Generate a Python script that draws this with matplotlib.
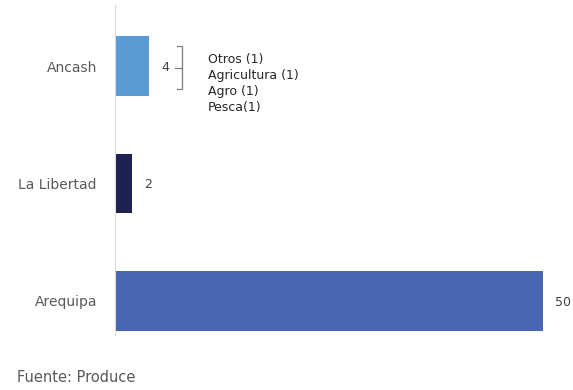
import matplotlib
matplotlib.use("Agg")
import matplotlib.pyplot as plt

regions = ["Arequipa", "La Libertad", "Ancash"]
values = [50, 2, 4]
colors = ["#4A65B2", "#1E2253", "#5B9BD5"]
ancash_detail = ["Otros (1)", "Agricultura (1)", "Agro (1)", "Pesca(1)"]
source = "Fuente: Produce"

plt.rcParams['font.family'] = ['DejaVu Sans']

fig = plt.figure(figsize=(5.73, 3.9), dpi=100)
ax = fig.add_axes([115/573, 1-335/390, 1-115/573, 330/390])
pos = list(range(len(regions)))
ax.barh(pos, values, height=0.51, color=colors)
ax.set_xlim(0, (573-115)/428*50)
ax.set_ylim(-0.29, 2.52)

ax.set_yticks(pos)
ax.set_yticklabels(regions, fontsize=10, color="#595959")
ax.tick_params(axis='y', length=0, pad=13)
ax.set_xticks([])
for s in ["top", "right", "bottom"]:
    ax.spines[s].set_visible(False)
ax.spines["left"].set_color("#D9D9D9")

for i, v in enumerate(values):
    ax.annotate(str(v), (v, pos[i]), xytext=(8.6, -1), textcoords="offset points",
                ha="left", va="center", fontsize=9, color="#404040")

# bracket next to Ancash
px = 50/428
bx = (182-115)*px
bh = (177-115)*px
bm = (175-115)*px
yt, yb = 2 + 20/117.5, 2 - 23/117.5
ax.plot([bh, bx, bx, bh], [yt, yt, yb, yb], color="#7F7F7F", lw=0.9)
ax.plot([bm, bx], [2 - 2/117.5, 2 - 2/117.5], color="#7F7F7F", lw=0.9)

tx = (208-115)*px
ys = [2.06, 1.923, 1.78, 1.65]
for t, y in zip(ancash_detail, ys):
    ax.text(tx, y, t, fontsize=9, color="#262626", va="center", ha="left")

fig.text(17/573, 1-378/390, source, fontsize=10.5, color="#595959", va="center", ha="left")

fig.savefig("out.png", dpi=100)
